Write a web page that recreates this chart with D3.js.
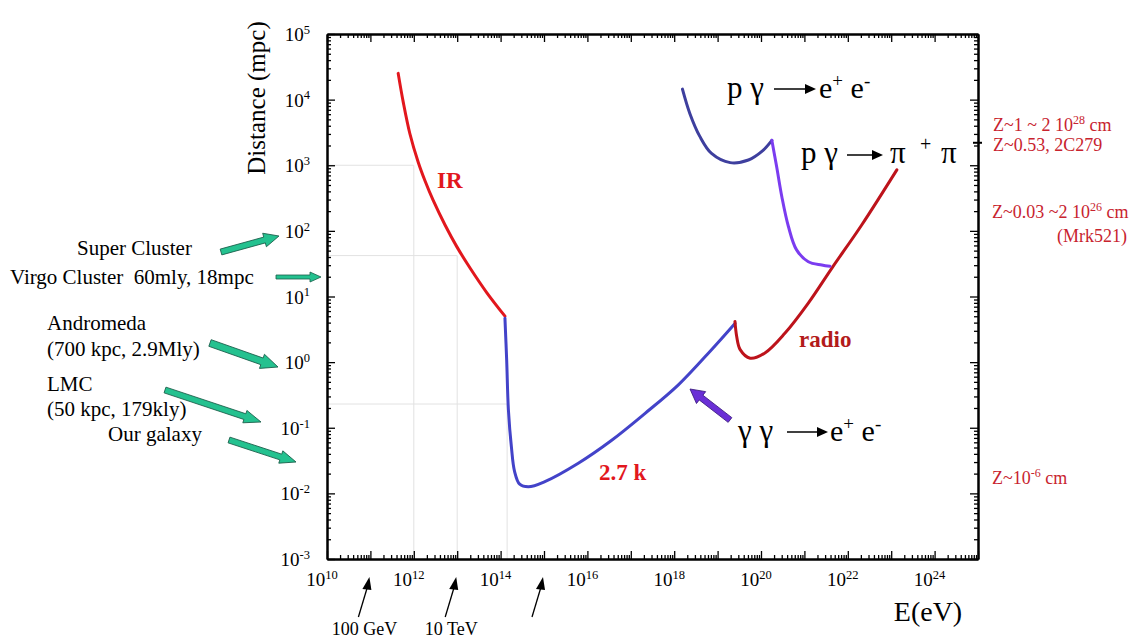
<!DOCTYPE html>
<meta charset="utf-8">
<html>
<head>
<style>
  body { margin: 0; background: #fff; }
  text { font-family: "Liberation Serif", "Times New Roman", serif; }
  .axis path, .axis line { stroke: #000; }
  .grid { stroke: #e2e2e2; stroke-width: 1px; }
</style>
<script src="https://cdn.jsdelivr.net/npm/d3@7"></script>
</head>
<body>
<div id="chart"></div>
<script>
// ---- data (log10 of energy in eV, log10 of distance in mpc) ----
var irLogE     = [11.64, 11.76, 11.91, 12.10, 12.26, 12.45, 12.72, 12.99, 13.30, 13.68, 14.10];
var irLogD     = [4.40, 3.95, 3.48, 3.05, 2.76, 2.46, 2.09, 1.76, 1.43, 1.06, 0.70];
var ggLogE     = [14.10, 14.14, 14.18, 14.25, 14.32, 14.44, 14.64, 15.02, 15.79, 16.56, 17.33, 18.09, 18.86, 19.40];
var ggLogD     = [0.67, 0.03, -0.73, -1.30, -1.66, -1.86, -1.90, -1.82, -1.54, -1.19, -0.78, -0.35, 0.19, 0.59];
var radioLogE  = [19.40, 19.44, 19.52, 19.75, 20.09, 20.55, 21.09, 21.63, 22.32, 23.13];
var radioLogD  = [0.62, 0.39, 0.19, 0.06, 0.14, 0.44, 0.90, 1.43, 2.09, 2.93];
var pgeeLogE   = [18.19, 18.36, 18.59, 18.86, 19.29, 19.71, 20.02, 20.25];
var pgeeLogD   = [4.16, 3.79, 3.44, 3.18, 3.04, 3.08, 3.21, 3.38];
var pgpiLogE   = [20.25, 20.36, 20.48, 20.63, 20.82, 21.09, 21.40, 21.59];
var pgpiLogD   = [3.38, 2.98, 2.52, 2.07, 1.71, 1.53, 1.48, 1.46];

// reference guide lines (energy, distance)
var guideE = [1e12, 1e13, Math.pow(10, 14.15)];
var guideD = [1e3, 42, 0.23];

var xMajorExp = [10, 11, 12, 13, 14, 15, 16, 17, 18, 19, 20, 21, 22, 23, 24, 25];
var xLabelExp = [10, 12, 14, 16, 18, 20, 22, 24];
var yMajorExp = [-3, -2, -1, 0, 1, 2, 3, 4, 5];

var bottomMarksE = [1e11, 1e13, 1e15];
var bottomMarksLabel = ["100 GeV", "10 TeV", ""];

var W = 1139, H = 644;
var margin = { left: 327, right: W - 978, top: 34, bottom: H - 559 };

var svg = d3.select("#chart").append("svg")
    .attr("width", W).attr("height", H);

var x = d3.scaleLog().domain([1e10, 1e25]).range([margin.left, W - margin.right]);
var y = d3.scaleLog().domain([1e-3, 1e5]).range([H - margin.bottom, margin.top]);

function pw(e) { return Math.pow(10, e); }
function minors(lo, hi) {
  var out = [];
  for (var k = lo; k < hi; k++) for (var m = 2; m <= 9; m++) out.push(m * pw(k));
  return out;
}
var xMaj = xMajorExp.map(pw), yMaj = yMajorExp.map(pw);
var xMin = minors(10, 25), yMin = minors(-3, 5);

// guide lines
var gl = svg.append("g");
guideE.forEach(function (e, i) {
  gl.append("line").attr("class", "grid")
    .attr("x1", x(1e10)).attr("x2", x(e)).attr("y1", y(guideD[i])).attr("y2", y(guideD[i]));
  gl.append("line").attr("class", "grid")
    .attr("x1", x(e)).attr("x2", x(e)).attr("y1", y(guideD[i])).attr("y2", y(1e-3));
});

// axes with inward ticks
function addAxis(gen, tr, vals, size) {
  var g = svg.append("g").attr("class", "axis").attr("transform", tr)
    .call(gen.tickValues(vals).tickSizeInner(-size).tickSizeOuter(0).tickFormat(""));
  g.selectAll("path").attr("stroke-width", 2);
  g.selectAll("line").attr("stroke-width", 1.3);
  return g;
}
var yb = y(1e-3), yt = y(1e5), xl = x(1e10), xr = x(1e25);
[[function () { return d3.axisBottom(x); }, "translate(0," + yb + ")", "x"],
 [function () { return d3.axisTop(x); }, "translate(0," + yt + ")", "x"],
 [function () { return d3.axisLeft(y); }, "translate(" + xl + ",0)", "y"],
 [function () { return d3.axisRight(y); }, "translate(" + xr + ",0)", "y"]].forEach(function (a) {
  addAxis(a[0](), a[1], a[2] === "x" ? xMin : yMin, 4);
  addAxis(a[0](), a[1], a[2] === "x" ? xMaj : yMaj, 8);
});
// marker tick on right axis (2C279)
svg.append("line").attr("x1", xr - 5).attr("x2", xr + 4)
  .attr("y1", y(2200)).attr("y2", y(2200)).attr("stroke", "#000").attr("stroke-width", 2);

// tick labels with superscripts
function powLabel(g, px, py, exp, anchor, size) {
  var t = g.append("text").attr("x", px).attr("y", py)
    .attr("text-anchor", anchor).attr("font-size", size).attr("fill", "#000");
  t.append("tspan").text("10");
  t.append("tspan").attr("font-size", size * 0.66).attr("dy", -size * 0.38).text(String(exp));
  return t;
}
var lab = svg.append("g");
yMajorExp.forEach(function (e) { powLabel(lab, xl - 17, y(pw(e)) + 7, e, "end", 19); });
xLabelExp.forEach(function (e) { powLabel(lab, x(pw(e)) - 5, yb + 27, e, "middle", 19); });

// axis titles
svg.append("text").attr("transform", "translate(265,98) rotate(-90)")
  .attr("text-anchor", "middle").attr("font-size", 25).text("Distance (mpc)");
svg.append("text").attr("x", 928).attr("y", 621).attr("text-anchor", "middle")
  .attr("font-size", 28).text("E(eV)");

// curves
var line = d3.line()
  .x(function (d) { return x(pw(d[0])); })
  .y(function (d) { return y(pw(d[1])); })
  .curve(d3.curveCatmullRom.alpha(0.5));
function zip(a, b) { return a.map(function (v, i) { return [v, b[i]]; }); }
var curves = [
  [zip(irLogE, irLogD), "#e2171d"],
  [zip(ggLogE, ggLogD), "#4343c9"],
  [zip(radioLogE, radioLogD), "#bd131b"],
  [zip(pgeeLogE, pgeeLogD), "#3e3f9e"],
  [zip(pgpiLogE, pgpiLogD), "#7b3cf0"]
];
svg.append("g").selectAll("path").data(curves).enter().append("path")
  .attr("d", function (d) { return line(d[0]); })
  .attr("fill", "none").attr("stroke", function (d) { return d[1]; })
  .attr("stroke-width", 3).attr("stroke-linecap", "round");

// block arrow helper
function blockArrow(x1, y1, x2, y2, sw, hw, hl, fill, stroke) {
  var dx = x2 - x1, dy = y2 - y1, L = Math.sqrt(dx * dx + dy * dy);
  var ang = Math.atan2(dy, dx) * 180 / Math.PI;
  var p = [[0, -sw / 2], [L - hl, -sw / 2], [L - hl, -hw / 2], [L, 0],
           [L - hl, hw / 2], [L - hl, sw / 2], [0, sw / 2]];
  svg.append("path").attr("d", "M" + p.join("L") + "Z")
    .attr("transform", "translate(" + x1 + "," + y1 + ") rotate(" + ang + ")")
    .attr("fill", fill).attr("stroke", stroke).attr("stroke-width", 0.8);
}

// curve labels
svg.append("text").attr("x", 437).attr("y", 188).attr("font-size", 23)
  .attr("font-weight", "bold").attr("fill", "#e2171d").text("IR");
svg.append("text").attr("x", 799).attr("y", 347).attr("font-size", 23)
  .attr("font-weight", "bold").attr("fill", "#b31b1b").text("radio");
svg.append("text").attr("x", 599).attr("y", 480).attr("font-size", 23)
  .attr("font-weight", "bold").attr("fill", "#e2171d").text("2.7 k");

// reaction labels
function arrowGlyph(px, py, len) {
  svg.append("line").attr("x1", px).attr("x2", px + len - 8).attr("y1", py).attr("y2", py)
    .attr("stroke", "#000").attr("stroke-width", 1.5);
  svg.append("path").attr("d", "M" + (px + len) + "," + py + "L" + (px + len - 11) + "," + (py - 5) +
    "L" + (px + len - 11) + "," + (py + 5) + "Z").attr("fill", "#000");
}
function eePair(px, py) {
  var t = svg.append("text").attr("x", px).attr("y", py).attr("font-size", 30)
    .attr("font-family", "Liberation Sans, Arial, sans-serif");
  t.append("tspan").text("e");
  t.append("tspan").attr("font-size", 19).attr("dy", -11).text("+");
  t.append("tspan").attr("dy", 11).text(" e");
  t.append("tspan").attr("font-size", 19).attr("dy", -11).text("-");
}
// p γ → e+ e-
svg.append("text").attr("x", 727).attr("y", 98).attr("font-size", 31).text("p γ");
arrowGlyph(774, 89, 42);
eePair(819, 98);
// p γ → π + π
svg.append("text").attr("x", 801).attr("y", 163).attr("font-size", 31).text("p γ");
arrowGlyph(847, 155, 36);
svg.append("text").attr("x", 890).attr("y", 163).attr("font-size", 31).text("π");
svg.append("text").attr("x", 920).attr("y", 151).attr("font-size", 20).text("+");
svg.append("text").attr("x", 941).attr("y", 163).attr("font-size", 31).text("π");
// γ γ → e+ e-
svg.append("text").attr("x", 738).attr("y", 441).attr("font-size", 31).text("γ γ");
arrowGlyph(787, 432, 41);
eePair(830, 441);
blockArrow(730, 420, 690, 389, 6, 15, 14, "#6a2fd6", "#3a1a80");

// left annotations
var leftText = ["Super Cluster", "Virgo Cluster  60mly, 18mpc", "Andromeda",
                 "(700 kpc, 2.9Mly)", "LMC", "(50 kpc, 179kly)", "Our galaxy"];
var leftPos = [[77, 255], [10, 284], [47, 330], [47, 356], [47, 391], [47, 416], [108, 441]];
leftText.forEach(function (s, i) {
  svg.append("text").attr("x", leftPos[i][0]).attr("y", leftPos[i][1])
    .attr("font-size", 21).style("white-space", "pre").text(s);
});
var green = "#24c18f", greenEdge = "#1a5e4a";
blockArrow(221, 252, 279, 236, 6, 14, 15, green, greenEdge);
blockArrow(276, 277, 321, 277, 4, 10, 11, green, greenEdge);
blockArrow(210, 343, 278, 367, 7, 15, 17, green, greenEdge);
blockArrow(165, 390, 261, 422, 6, 13, 17, green, greenEdge);
blockArrow(229, 440, 296, 462, 6, 13, 16, green, greenEdge);

// right annotations
var red = "#c8232e";
function zText(px, py, parts, anchor) {
  var t = svg.append("text").attr("x", px).attr("y", py).attr("font-size", 18)
    .attr("fill", red).attr("text-anchor", anchor || "start");
  parts.forEach(function (p) {
    var ts = t.append("tspan").text(p[0]);
    if (p[1]) ts.attr("font-size", p[1] < 0 ? 12 : 18).attr("dy", p[1]);
  });
}
zText(993, 131, [["Z~1 ~ 2 10"], ["28", -7], [" cm", 7]]);
zText(993, 151, [["Z~0.53, 2C279"]]);
zText(992, 218, [["Z~0.03 ~2 10"], ["26", -7], [" cm", 7]]);
zText(1127, 242, [["(Mrk521)"]], "end");
zText(992, 484, [["Z~10"], ["-6", -7], [" cm", 7]]);

// bottom energy markers
bottomMarksE.forEach(function (e, i) {
  var tx = x(e) - 1, ty = yb + 18;
  svg.append("line").attr("x1", tx - 11).attr("y1", ty + 40).attr("x2", tx - 2).attr("y2", ty + 10)
    .attr("stroke", "#000").attr("stroke-width", 1.3);
  svg.append("path").attr("d", "M" + tx + "," + ty + "L" + (tx - 7) + "," + (ty + 12) + "L" + (tx + 2) + "," + (ty + 13) + "Z")
    .attr("fill", "#000");
  if (bottomMarksLabel[i]) {
    svg.append("text").attr("x", tx - 5).attr("y", 635).attr("text-anchor", "middle")
      .attr("font-size", 18).text(bottomMarksLabel[i]);
  }
});
</script>
</body>
</html>
